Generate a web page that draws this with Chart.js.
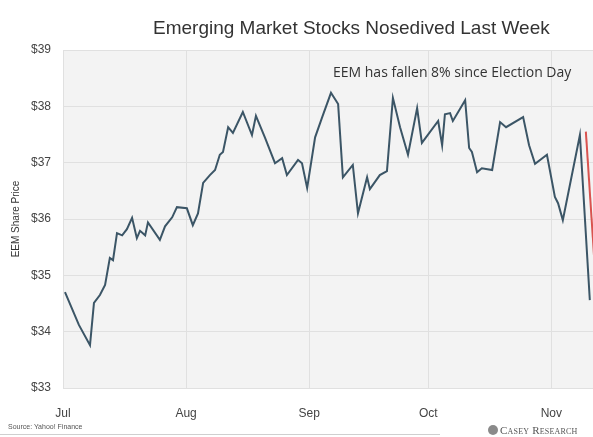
<!DOCTYPE html>
<html>
<head>
<meta charset="utf-8">
<script src="https://cdn.jsdelivr.net/npm/chart.js@4.4.1/dist/chart.umd.min.js"></script>
<style>
  html, body { margin: 0; padding: 0; background: #fff; overflow: hidden; }
  #wrap { position: relative; width: 593px; height: 437px; }
  #chart { position: absolute; left: 0; top: 0; }
  .title {
    position: absolute; left: 153px; top: 17px; white-space: nowrap;
    font: 19px "Liberation Sans", Arial, sans-serif; color: #333;
  }
  .note {
    position: absolute; left: 333px; top: 62px; white-space: nowrap;
    font: 14px "Open Sans", sans-serif; color: #333;
  }
  .source {
    position: absolute; left: 8px; top: 423px;
    font: 7px "Liberation Sans", Arial, sans-serif; color: #555; white-space: nowrap;
  }
  .rule {
    position: absolute; left: 0; top: 434px; width: 440px; height: 1px; background: #cfcfcf;
  }
  .logo {
    position: absolute; left: 488px; top: 424px; white-space: nowrap;
    font: 11px "Liberation Serif", "DejaVu Serif", serif; font-variant: small-caps;
    color: #555; letter-spacing: 0.2px;
  }
  .logo i {
    display: inline-block; width: 10px; height: 10px; border-radius: 50%;
    background: #8a8a8a; margin-right: 2px; vertical-align: -1px;
  }
</style>
</head>
<body>
<div id="wrap">
  <canvas id="chart" width="593" height="437"></canvas>
  <div class="title">Emerging Market Stocks Nosedived Last Week</div>
  <div class="note">EEM has fallen 8% since Election Day</div>
  <div class="source">Source: Yahoo! Finance</div>
  <div class="rule"></div>
  <div class="logo"><i></i>Casey Research</div>
</div>
<script>
// EEM closing prices, day 0 = July 1
const dayOffsets = [
  0.5, 4.0, 6.8, 7.8, 9.3, 10.6, 11.8, 12.6, 13.6, 14.9,
  16.1, 17.4, 18.6, 19.4, 20.7, 21.4, 24.4, 25.7, 27.5, 28.7,
  31.2, 32.7, 34.0, 35.3, 37.0, 38.3, 39.5, 40.3, 41.6, 42.8,
  45.3, 47.6, 48.6, 50.9, 53.4, 55.2, 56.4, 59.2, 60.2, 61.5,
  63.5, 65.2, 67.5, 69.3, 70.5, 73.0, 74.3, 76.6, 77.3, 79.8,
  81.6, 83.1, 84.9, 86.9, 89.2, 90.4, 94.5, 95.5, 96.2, 97.5,
  98.2, 101.3, 102.3, 103.0, 104.3, 105.5, 108.1, 110.1, 111.6, 115.9,
  117.4, 118.9, 121.9, 123.9, 124.7, 125.9, 130.2, 132.7
];
const prices = [
  34.70, 34.12, 33.76, 34.51, 34.65, 34.83, 35.31, 35.27, 35.75, 35.71,
  35.82, 36.02, 35.66, 35.79, 35.71, 35.94, 35.63, 35.87, 36.03, 36.21,
  36.19, 35.89, 36.10, 36.64, 36.78, 36.87, 37.14, 37.19, 37.63, 37.53,
  37.90, 37.49, 37.83, 37.44, 36.99, 37.08, 36.78, 37.05, 36.99, 36.55,
  37.45, 37.79, 38.24, 38.04, 36.74, 36.96, 36.10, 36.74, 36.53, 36.78,
  36.85, 38.15, 37.63, 37.14, 37.97, 37.35, 37.74, 37.31, 37.86, 37.88,
  37.74, 38.11, 37.26, 37.19, 36.83, 36.90, 36.87, 37.72, 37.63, 37.81,
  37.31, 36.98, 37.14, 36.39, 36.28, 35.98, 37.49, 34.56
];

// red guide line from the Election Day close
const dropDays = [131.7, 134.5];
const dropPrices = [37.55, 34.55];

const monthTicks = [0, 31, 62, 92, 123];
const monthLabels = ["Jul", "Aug", "Sep", "Oct", "Nov"];

const X_MAX = 133.5;
const AXIS_FONT = "'Liberation Sans Narrow', 'Liberation Sans', Arial, sans-serif";

const plotBackground = {
  id: "plotBackground",
  beforeDraw(chart) {
    const { ctx, chartArea } = chart;
    ctx.save();
    ctx.fillStyle = "#f3f3f3";
    ctx.fillRect(chartArea.left, chartArea.top,
      chartArea.right - chartArea.left, chartArea.bottom - chartArea.top);
    ctx.restore();
  },
};

new Chart(document.getElementById("chart"), {
  type: "line",
  data: {
    datasets: [
      {
        data: dropDays.map((d, i) => ({ x: d, y: dropPrices[i] })),
        borderColor: "#d9534f",
        borderWidth: 2,
        pointRadius: 0,
      },
      {
        data: dayOffsets.map((d, i) => ({ x: d, y: prices[i] })),
        borderColor: "#3b5566",
        borderWidth: 2,
        pointRadius: 0,
        tension: 0,
      },
    ],
  },
  options: {
    responsive: false,
    animation: false,
    devicePixelRatio: 1,
    layout: { padding: { left: 0, right: 0, top: 50, bottom: 0 } },
    plugins: {
      legend: { display: false },
      tooltip: { enabled: false },
      title: { display: false },
    },
    scales: {
      x: {
        type: "linear",
        min: 0,
        max: X_MAX,
        afterBuildTicks(scale) {
          scale.ticks = monthTicks.map((v) => ({ value: v }));
        },
        afterFit(scale) { scale.height = 49; },
        ticks: {
          color: "#444",
          padding: 18,
          font: { family: AXIS_FONT, size: 12 },
          callback: (v) => monthLabels[monthTicks.indexOf(v)],
          maxRotation: 0,
        },
        grid: { color: "#e0e0e0", drawTicks: false },
        border: { display: false },
      },
      y: {
        min: 33,
        max: 39,
        afterFit(scale) { scale.width = 63; },
        ticks: {
          stepSize: 1,
          color: "#444",
          padding: 12,
          font: { family: AXIS_FONT, size: 12 },
          callback: (v) => "$" + v,
        },
        grid: { color: "#e0e0e0", drawTicks: false },
        border: { display: false },
        title: {
          display: true,
          text: "EEM Share Price",
          color: "#333",
          font: { family: AXIS_FONT, size: 10 },
          padding: { top: 10, bottom: 0 },
        },
      },
    },
  },
  plugins: [plotBackground],
});
</script>
</body>
</html>
